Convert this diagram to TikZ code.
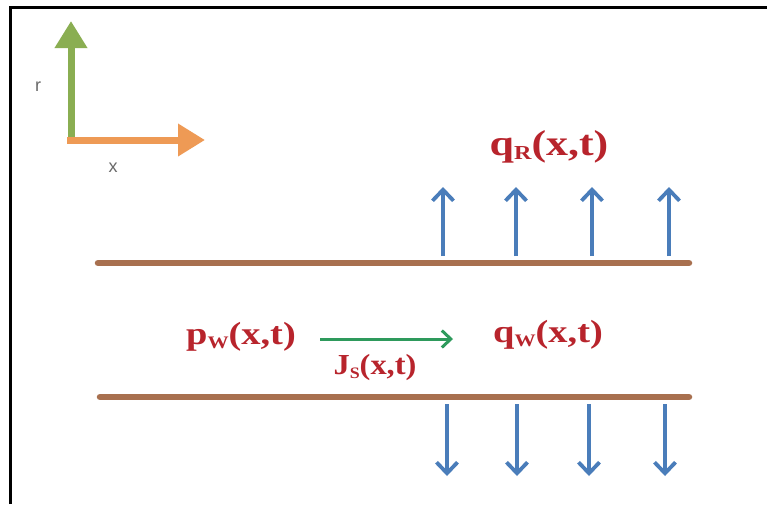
\documentclass[tikz,border=0pt]{standalone}
\usepackage{fontspec}
\setmainfont{Liberation Serif}
\newfontfamily\axfont{Liberation Sans}
\usetikzlibrary{arrows.meta}
\definecolor{axgreen}{HTML}{8AAE52}
\definecolor{axorange}{HTML}{EE9A55}
\definecolor{wallbrown}{HTML}{A8704F}
\definecolor{flowblue}{HTML}{4A7DBA}
\definecolor{labred}{HTML}{B8242C}
\definecolor{jgreen}{HTML}{2E9A5C}
\definecolor{axtext}{HTML}{6A6A6A}
\newcommand{\sub}[1]{\raisebox{-0.12em}{\fontsize{0.55em}{0.6em}\selectfont #1}}
\tikzset{
  wall/.style={line width=6.5pt, wallbrown, line cap=round},
  flux/.style={line width=3.8pt, flowblue, -{Straight Barb[length=11pt,width=21pt,line width=3.8pt]}},
  axis/.style={line width=7pt, -{Triangle[length=27pt,width=31pt]}},
  lab/.style={text=labred, inner sep=0pt},
  axlab/.style={text=axtext, font=\axfont\fontsize{18}{20}\selectfont, inner sep=0pt}
}
\begin{document}
\begin{tikzpicture}[x=1pt,y=-1pt]
\useasboundingbox (0,0) rectangle (767,504);
\fill[white] (0,0) rectangle (767,504);
% frame
\draw[black, line width=3pt] (10,504) -- (10,7) -- (767,7);
% axes
\coordinate (o) at (71,139);
\coordinate (rt) at (71,21);
\coordinate (xt) at (205,140);
\draw[axis, axgreen] (o) -- (rt);
\draw[axis, axorange] (67,140) -- (xt);
\node[axlab] (rlab) at (38,87) {r};
\node[axlab] (xlab) at (113,168) {x};
% walls
\coordinate (w1a) at (98,263);
\coordinate (w1b) at (689,263);
\coordinate (w2a) at (100,397);
\coordinate (w2b) at (689,397);
\draw[wall] (w1a) -- (w1b);
\draw[wall] (w2a) -- (w2b);
% up arrows
\foreach \i/\x in {1/443,2/516,3/592,4/669}{
  \coordinate (us\i) at (\x,256);
  \coordinate (ue\i) at (\x,187);
  \draw[flux] (us\i) -- (ue\i);
}
% down arrows
\foreach \i/\x in {1/447,2/517,3/589,4/665}{
  \coordinate (ds\i) at (\x,404);
  \coordinate (de\i) at (\x,476);
  \draw[flux] (ds\i) -- (de\i);
}
% labels
\node[lab] (qR) at (549,147) {\scalebox{1.22}[1]{\bfseries\fontsize{36}{40}\selectfont q\sub{R}(x,t)}};
\node[lab] (pw) at (241,337) {\scalebox{1.2}[1]{\bfseries\fontsize{32}{36}\selectfont p\sub{W}(x,t)}};
\node[lab] (qw) at (548,335) {\scalebox{1.2}[1]{\bfseries\fontsize{32}{36}\selectfont q\sub{W}(x,t)}};
\node[lab] (js) at (375,368) {\scalebox{1.12}[1]{\bfseries\fontsize{29}{32}\selectfont J\sub{S}(x,t)}};
\coordinate (ja) at (320,339);
\coordinate (jb) at (453,339);
\draw[jgreen, line width=3pt, -{Straight Barb[length=9pt,width=17pt,line width=3pt]}] (ja) -- (jb);
\end{tikzpicture}
\end{document}
